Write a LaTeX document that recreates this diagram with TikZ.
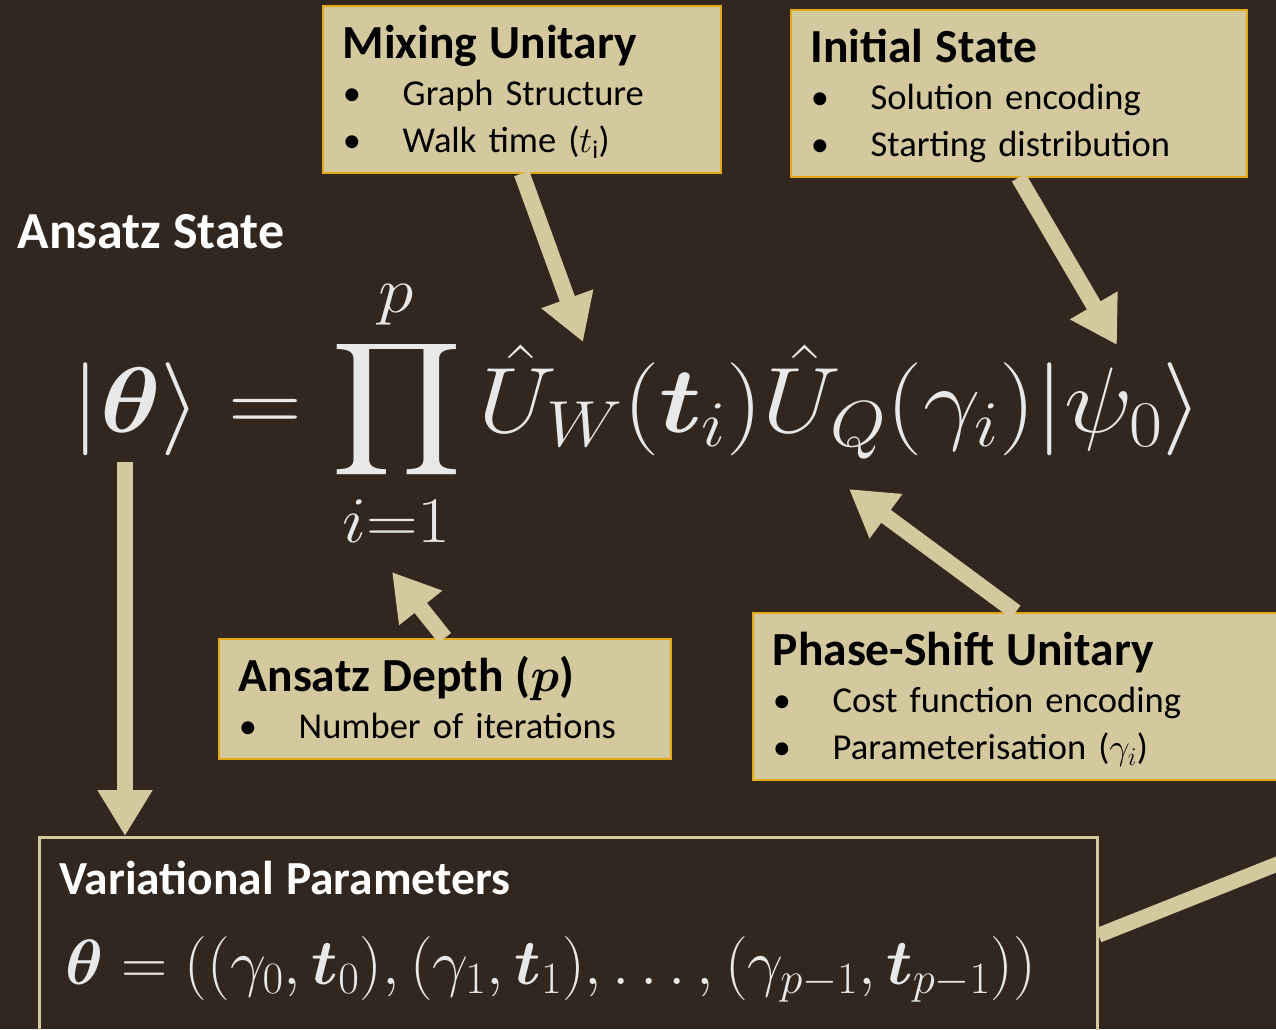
\RequirePackage{fix-cm}
\documentclass[tikz,border=0pt]{standalone}
\usepackage{amsmath,bm,graphicx}
\DeclareFontShape{OMX}{cmex}{m}{n}{<-> cmex10}{}
\usepackage{fontspec}
\setmainfont{Carlito}
\usetikzlibrary{positioning, arrows.meta}
\definecolor{bgdark}{HTML}{31271E}
\definecolor{tan}{HTML}{D3C89E}
\definecolor{gold}{HTML}{E3A914}
\definecolor{chalk}{HTML}{E8E8E8}

\newcommand{\headfont}{\fontsize{47.5}{50}\selectfont\bfseries}
\newcommand{\bul}[1]{\makebox[60pt][l]{\textbullet}#1}
\newcommand{\headstrut}{\rule{0pt}{41pt}}
\newcommand{\footstrut}{\rule[-8pt]{0pt}{8pt}}

\begin{document}
\begin{tikzpicture}[x=1pt, y=-1pt,
        every node/.style={font=\fontsize{36.5}{47}\selectfont},
        infobox/.style={rectangle, draw=gold, fill=tan, line width=1.5pt,
          anchor=north west, align=left, inner xsep=20pt, inner ysep=12pt},
        fat/.style={draw=tan, line width=16pt,
          -{Triangle[length=46pt, width=52pt]}}]

      \clip (0,0) rectangle (1276,1029);
      \fill[bgdark] (0,0) rectangle (1276,1029);

      % callout boxes
      \node[infobox, text width=358pt] (mix) at (322,5)
        {{\headfont\headstrut Mixing Unitary}\\ \bul{Graph Structure}\\
         \bul{Walk time ($t_{\mathrm{i}}$)\footstrut}};
      \node[infobox, text width=416pt] (init) at (790,9)
        {{\headfont\headstrut Initial State}\\ \bul{Solution encoding}\\
         \bul{Starting distribution\footstrut}};
      \node[infobox, text width=412pt] (depth) at (218,638)
        {{\headfont\headstrut Ansatz Depth ($\bm{p}$)}\\
         \bul{Number of iterations\footstrut}};
      \node[infobox, text width=486pt] (phase) at (752,612)
        {{\headfont\headstrut Phase-Shift Unitary}\\ \bul{Cost function encoding}\\
         \bul{Parameterisation ($\gamma_i$)\footstrut}};

      % ansatz state
      \node[anchor=base west, text=white, font=\fontsize{52}{56}\selectfont\bfseries]
        (title) at (14,248) {Ansatz State};
      \node[text=chalk, font=\fontsize{93}{100}\selectfont] (ansatz) at (637,413)
        {\scalebox{1.1}[1]{$\displaystyle |\bm{\theta}\rangle = \prod_{i=1}^{p}
          \hat{U}_W(\bm{t}_i)\hat{U}_Q(\gamma_i)|\psi_0\rangle$}};

      % variational parameters
      \node[infobox, fill=none, draw=tan, line width=2.5pt, text=white,
        text width=1018pt, font=\fontsize{37}{90}\selectfont] (var) at (38,836)
        {{\headfont\rule{0pt}{45pt}Variational Parameters}\\
         \hspace*{6pt}{\color{chalk}\fontsize{64}{70}\selectfont
          $\bm{\theta} = ((\gamma_0, \bm{t}_0), (\gamma_1, \bm{t}_1), \ldots,
          (\gamma_{p-1}, \bm{t}_{p-1}))$}\rule[-37pt]{0pt}{0pt}};

      \coordinate (uwtip) at (583,342);
      \coordinate (psitip) at (1117,345);
      \coordinate (uqtip) at (849,489);
      \coordinate (prodtip) at (392,572);
      \coordinate (thetafoot) at (125,462);
      \coordinate (offright) at (1300,855);

      \draw[fat] (mix.south) -- (uwtip);
      \draw[fat] (init.south) -- (psitip);
      \draw[fat] (phase.north) -- (uqtip);
      \draw[fat] (depth.north) -- (prodtip);
      \draw[fat] (thetafoot) -- (thetafoot |- var.north);
      \draw[tan, line width=15pt] (var.east) -- (offright);
    \end{tikzpicture}
\end{document}
